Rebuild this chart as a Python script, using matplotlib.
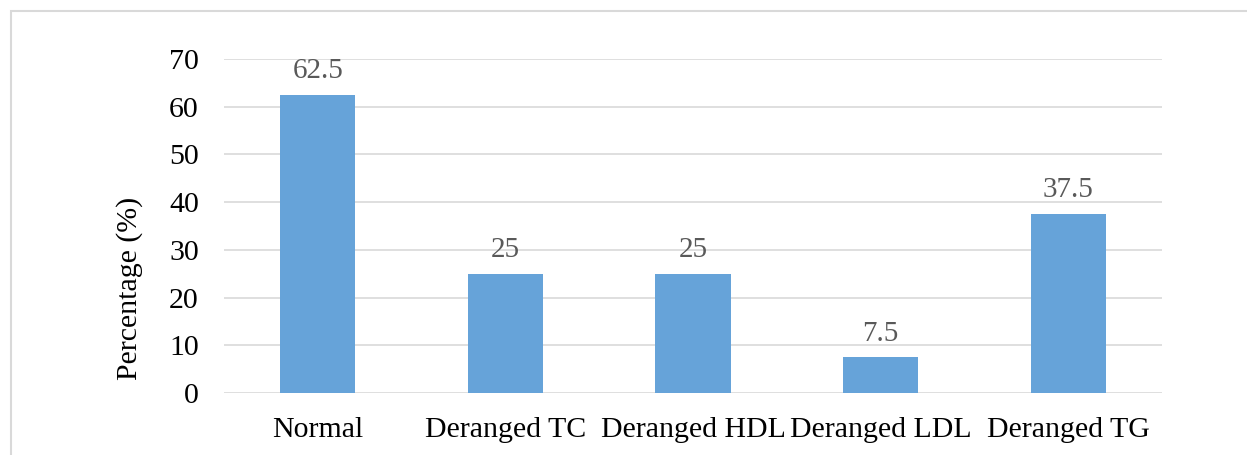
import matplotlib
matplotlib.use("Agg")
import matplotlib.pyplot as plt
from matplotlib.patches import Rectangle

categories = ["Normal", "Deranged TC", "Deranged HDL", "Deranged LDL", "Deranged TG"]
percentages = [62.5, 25, 25, 7.5, 37.5]
y_ticks = [0, 10, 20, 30, 40, 50, 60, 70]

plt.rcParams["font.family"] = ["Liberation Serif", "DejaVu Serif"]

W, H = 1247, 455
fig = plt.figure(figsize=(W / 100, H / 100), dpi=100)
fig.patch.set_facecolor("white")

# chart area frame
fig.patches.append(Rectangle((11 / W, -0.05), 1.2, 1 - 11 / H + 0.05,
                             transform=fig.transFigure, fill=False,
                             edgecolor="#d9d9d9", linewidth=1.5))

ax = fig.add_axes([224 / W, 1 - 393 / H, (1162 - 224) / W, (393 - 59) / H])

x = range(len(categories))
ax.bar(x, percentages, width=0.4, color="#66a3d9", zorder=3)

for xi, v in zip(x, percentages):
    label = f"{v:g}"
    ax.annotate(label, (xi, v), xytext=(0, 12), textcoords="offset points",
                ha="center", va="baseline", fontsize=21, color="#595959")

ax.set_xlim(-0.5, len(categories) - 0.5)
ax.set_ylim(0, 70)
ax.set_yticks(y_ticks)
ax.set_xticks(list(x))
ax.set_xticklabels(categories)
ax.tick_params(axis="both", length=0, labelsize=21.5, colors="black")
ax.tick_params(axis="y", pad=18)
ax.tick_params(axis="x", pad=17)
ax.grid(axis="y", color="#d9d9d9", linewidth=1.2, zorder=0)
for s in ax.spines.values():
    s.set_visible(False)

fig.text(130 / W, 1 - 288 / H, "Percentage (%)", rotation=90,
         ha="center", va="center", fontsize=21.5, color="black")

fig.savefig("out.png", dpi=100, facecolor="white")
